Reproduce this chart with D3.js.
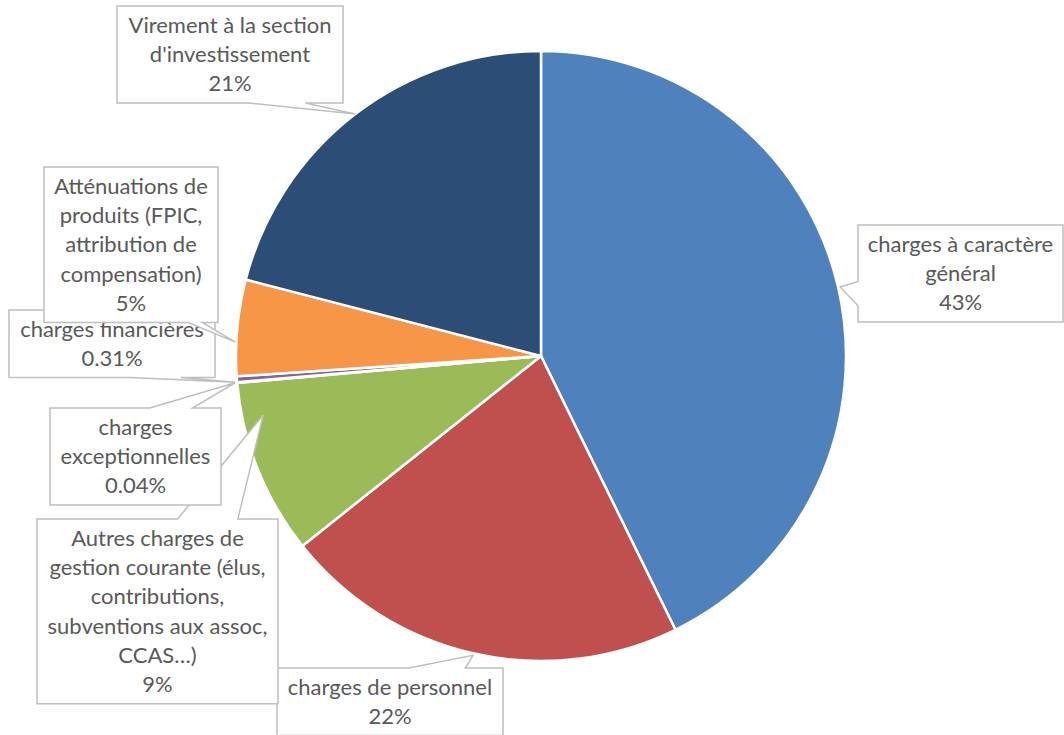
<!DOCTYPE html>
<html>
<head>
<meta charset="utf-8">
<script src="https://cdn.jsdelivr.net/npm/d3@7"></script>
<style>
  body { margin: 0; background: #fff; }
  svg text { font-family: Lato, "Open Sans", sans-serif; fill: #595959; }
</style>
</head>
<body>
<div id="chart"></div>
<script>
// categories in the order Excel draws them (clockwise from 12 o'clock)
var categories = [
  "charges à caractère général",
  "charges de personnel",
  "Autres charges de gestion courante (élus, contributions, subventions aux assoc, CCAS…)",
  "charges exceptionnelles",
  "charges financières",
  "Atténuations de produits (FPIC, attribution de compensation)",
  "Virement à la section d'investissement"
];
var values = [42.8, 21.6, 9.3, 0.04, 0.31, 5.1, 21.0];
var pctLabels = ["43%", "22%", "9%", "0.04%", "0.31%", "5%", "21%"];
var colors = ["#4f81bd", "#c0504d", "#9bbb59", "#4bacc6", "#8064a2", "#f79646", "#2c4d75"];

// wrapped label lines, as Excel laid them out
var labelLines = [
  ["charges à caractère", "général"],
  ["charges de personnel"],
  ["Autres charges de", "gestion courante (élus,", "contributions,", "subventions aux assoc,", "CCAS…)"],
  ["charges", "exceptionnelles"],
  ["charges financières"],
  ["Atténuations de", "produits (FPIC,", "attribution de", "compensation)"],
  ["Virement à la section", "d'investissement"]
];

// callout layout: box x, y, width, side of the wedge, wedge base fractions, tip (angle deg, radius)
var callouts = [
  {x: 858, y: 225, w: 205, side: "left",   f: [7/12, 10/12], tip: [77.0, 307]},
  {x: 277, y: 668, w: 226, side: "top",    f: [7/12, 10/12], tip: [192.8, 307]},
  {x: 37,  y: 519, w: 241, side: "top",    f: [7/12, 10/12], tip: [258, 284]},
  {x: 50,  y: 408, w: 171, side: "top",    f: [7/12, 10/12], tip: [265, 307]},
  {x: 9,   y: 310, w: 206, side: "bottom", f: [7/12, 10/12], tip: [265.1, 307]},
  {x: 44,  y: 167, w: 174, side: "bottom", f: [0.83, 0.91],  tip: [272.6, 306]},
  {x: 117, y: 6,   w: 226, side: "bottom", f: [7/12, 10/12], tip: [322.5, 305]}
];

var width = 1064, height = 735;
var cx = 541, cy = 356, radius = 305;
var lineH = 29.3, fontSize = 22;

var svg = d3.select("#chart").append("svg")
  .attr("width", width)
  .attr("height", height);

var pie = d3.pie().sort(null).value(function(d) { return d; });
var arc = d3.arc().innerRadius(0).outerRadius(radius);

var g = svg.append("g").attr("transform", "translate(" + cx + "," + cy + ")");

g.selectAll("path.slice")
  .data(pie(values))
  .enter()
  .append("path")
  .attr("class", "slice")
  .attr("d", arc)
  .attr("fill", function(d, i) { return colors[i]; })
  .attr("stroke", "#fff")
  .attr("stroke-width", 2.5)
  .attr("stroke-linejoin", "round");

function calloutPath(c, h, t) {
  var x = c.x, y = c.y, w = c.w;
  var p;
  if (c.side == "top") {
    p = [[x, y], [x + w * c.f[0], y], t, [x + w * c.f[1], y], [x + w, y], [x + w, y + h], [x, y + h]];
  } else if (c.side == "bottom") {
    p = [[x, y], [x + w, y], [x + w, y + h], [x + w * c.f[1], y + h], t, [x + w * c.f[0], y + h], [x, y + h]];
  } else {
    p = [[x, y], [x + w, y], [x + w, y + h], [x, y + h], [x, y + h * c.f[1]], t, [x, y + h * c.f[0]]];
  }
  return "M" + p.map(function(q) { return q[0] + "," + q[1]; }).join("L") + "Z";
}

var labels = svg.selectAll("g.label")
  .data(categories)
  .enter()
  .append("g")
  .attr("class", "label");

labels.each(function(cat, i) {
  var c = callouts[i];
  var lines = labelLines[i].concat([pctLabels[i]]);
  var h = lines.length * lineH + 9;
  var tp = d3.pointRadial(c.tip[0] * Math.PI / 180, c.tip[1]);
  var tip = [cx + tp[0], cy + tp[1]];
  var sel = d3.select(this);

  sel.append("path")
    .attr("d", calloutPath(c, h, tip))
    .attr("fill", "#fff")
    .attr("stroke", "#bfbfbf")
    .attr("stroke-width", 1.5);

  sel.selectAll("text")
    .data(lines)
    .enter()
    .append("text")
    .attr("x", c.x + c.w / 2)
    .attr("y", function(d, j) { return c.y + 4.5 + (j + 0.5) * lineH; })
    .attr("dy", "0.35em")
    .attr("text-anchor", "middle")
    .style("font-size", fontSize + "px")
    .text(function(d) { return d; });
});
</script>
</body>
</html>
